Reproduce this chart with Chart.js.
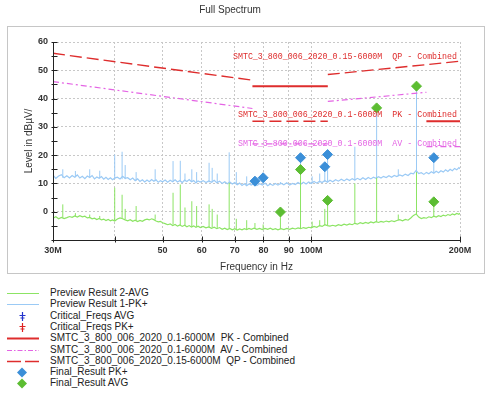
<!DOCTYPE html>
<html><head><meta charset="utf-8">
<script src="https://cdn.jsdelivr.net/npm/chart.js@4.4.0/dist/chart.umd.min.js"></script>
<style>
html,body{margin:0;padding:0;background:#fff;width:500px;height:399px;overflow:hidden;}
#wrap{position:relative;width:500px;height:399px;}
#c{position:absolute;left:0;top:0;}
.lg{position:absolute;left:6px;height:12px;width:440px;font:10px 'Liberation Sans',Arial,sans-serif;color:#222;line-height:12px;white-space:pre;}
.lg svg{position:absolute;left:0;top:0;}
.lg span{position:absolute;left:44px;top:0;}
</style></head><body>
<div id="wrap"><canvas id="c" width="500" height="280"></canvas><div id="legend"></div></div>
<script>
// ---------- data (MHz / dBµV) ----------
const freqs = [30,30.4,30.8,31.2,31.6,32,32.4,32.8,33.2,33.6,34,34.4,34.8,35.2,35.6,36,36.4,36.8,37.2,37.6,38,38.4,38.8,39.2,39.6,40,
 40.5,41,41.5,42,42.5,43,43.5,44,44.5,45,45.5,46,46.5,47,47.5,48,48.5,49,49.5,50,
 50.6,51.2,51.8,52.4,53,53.6,54.2,54.8,55.4,56,56.6,57.2,57.8,58.4,59,59.6,
 60.4,61.2,62,62.8,63.6,64.4,65.2,66,66.8,67.6,68.4,69.2,70,70.8,71.6,72.4,73.2,74,74.8,75.6,
 76.6,77.6,78.6,79.6,80.6,81.6,82.6,83.6,84.6,85.6,86.8,88,89.2,90.4,91.6,92.8,94,95.2,96.4,97.6,98.8,100,101.3,102.6,103.9,105.2,106.5,107.8,109.1,
 110.5,112,113.5,115,116.5,118,119.5,121,122.5,124,125.6,127.2,128.8,130.4,132,133.6,135.2,136.8,138.4,140,141.8,143.6,145.4,147.2,149,
 151,153,155,157,159,161,163,165,167,169,171,173,175,177,179,181,183,185,187,189,191,193,195,197,199,200];
const previewPK = [12.9,11.8,12.6,13.1,12.0,12.7,11.9,12.8,12.2,13.0,11.9,12.5,11.7,12.6,12.1,12.8,11.6,12.3,11.8,12.4,11.5,12.2,11.4,12.0,11.3,11.9,
 12.2,11.6,12.5,11.8,12.0,11.3,11.9,11.0,11.6,10.7,11.3,10.5,11.2,10.6,11.4,10.8,11.3,10.4,11.0,10.6,
 11.2,10.4,11.1,10.6,11.3,10.5,11.0,10.3,11.2,10.7,11.4,10.6,11.0,10.2,10.9,10.5,
 11.0,10.3,10.9,10.4,11.1,10.2,10.8,10.0,10.6,9.9,10.5,9.8,10.3,9.5,10.1,9.3,9.9,9.2,9.8,9.4,
 10.0,9.3,9.9,9.4,10.1,9.2,9.8,9.3,10.0,9.4,10.1,9.5,10.2,9.4,10.0,9.6,10.3,9.7,10.4,9.8,10.5,10.0,10.7,10.1,10.8,10.3,11.0,10.4,11.1,
 10.6,11.3,10.8,11.5,10.9,11.6,11.0,11.7,11.2,11.8,11.3,12.0,11.4,12.1,11.6,12.2,11.8,12.4,11.9,12.5,12.1,12.7,12.2,12.8,12.4,
 13.0,12.6,13.3,12.8,13.6,13.4,14.6,13.5,13.8,13.2,13.9,13.4,14.1,13.6,14.3,13.8,14.5,14.0,14.8,14.2,15.0,14.5,15.3,14.8,15.6,15.2];
const previewAVG = [-2.3,-1.8,-2.5,-2.0,-2.4,-2.1,-1.7,-2.0,-1.5,-1.9,-1.4,-1.8,-1.6,-2.2,-2.0,-2.5,-2.3,-2.8,-2.4,-2.9,-2.6,-3.1,-2.7,-3.2,-2.9,-3.3,
 -2.6,-2.2,-2.5,-2.9,-3.2,-2.8,-3.4,-3.0,-3.5,-3.1,-3.4,-2.9,-2.6,-2.9,-2.5,-2.8,-3.3,-3.6,-3.4,-3.9,
 -4.2,-4.6,-4.3,-4.9,-4.5,-5.1,-4.7,-5.2,-4.8,-5.3,-4.9,-5.4,-5.0,-5.5,-5.1,-5.6,
 -5.2,-5.7,-5.4,-5.9,-5.5,-6.0,-5.6,-6.2,-5.8,-6.3,-5.9,-6.4,-6.0,-6.5,-6.1,-6.4,-6.0,-6.3,-5.9,-6.2,
 -5.8,-6.2,-5.9,-6.3,-5.9,-6.2,-5.8,-6.3,-6.0,-6.4,-6.0,-6.3,-5.9,-6.2,-5.8,-6.1,-5.7,-6.0,-5.6,-5.9,-5.5,-5.7,-5.2,-5.5,-4.9,-5.2,-4.6,-4.9,-5.1,
 -4.8,-5.1,-4.6,-4.9,-4.4,-4.7,-4.3,-4.6,-4.1,-4.4,-3.9,-4.2,-3.8,-4.1,-3.6,-3.9,-3.5,-3.8,-3.4,-3.7,-3.3,-3.6,-3.2,-3.5,-3.1,
 -2.8,-3.2,-2.7,-3.0,-2.2,-1.3,-0.8,-1.9,-2.4,-2.1,-2.3,-1.8,-2.1,-1.6,-1.9,-1.4,-1.7,-1.2,-1.5,-1.0,-1.3,-0.8,-1.1,-0.6,-0.9,-0.5];

// narrow emission spikes
const spikeFreqs   = [31.4,33.3,35.6,37.3,40.0,41.4,42.0,44.2,48.3,52.5,54.3,55.5,57.3,58.6,62.1,63.0,64.5,68.2,70.5,74.0,76.9,79.9,86.6,95.1,100.4,104.0,106.5,107.9,122.5,135.6,150.0,163.3,177.0];
const pkSpikeTop   = [15.0,14.4,15.0,14.5,20.2,21.2,16.5,14.0,15.0,17.9,18.0,13.5,15.0,14.0,17.3,15.5,13.5,21.0,14.0,12.5,11.5,12.0,10.5,19.1,12.5,13.5,16.5,20.2,23.0,36.7,15.0,44.4,19.1];
const pkSpikeBase  = [12.0,12.2,12.0,11.8,11.5,11.5,11.5,11.0,10.8,10.6,10.6,10.7,10.6,10.5,10.4,10.4,10.3,10.0,9.6,9.4,9.5,9.5,9.7,9.8,10.1,10.3,10.5,10.6,11.0,11.8,12.6,13.5,13.7];
const avgSpikeTop  = [2.6,-0.5,-1.0,-1.5,8.5,6.0,1.0,2.0,-1.0,6.7,9.6,1.5,3.7,2.0,2.6,1.0,-1.0,10.2,-2.5,-3.0,-4.0,-4.5,-0.1,14.9,-3.5,-3.0,1.0,4.0,10.0,12.0,-1.0,14.0,3.5];
const avgSpikeBase = [-2.2,-1.7,-2.1,-2.6,-3.2,-2.4,-2.7,-3.1,-2.8,-4.5,-4.8,-5.0,-5.2,-5.3,-5.5,-5.5,-5.8,-6.0,-6.1,-6.1,-6.1,-6.1,-6.1,-5.9,-5.6,-5.1,-4.8,-4.8,-4.3,-3.6,-3.0,-1.0,-1.6];

// final results
const finalPKFreqs  = [76.9,79.9,95.1,106.5,107.9,177.0];
const finalPKLevels = [10.8,12.0,19.1,15.9,20.2,19.1];
const finalAVGFreqs  = [86.6,95.1,107.9,135.6,163.3,177.0];
const finalAVGLevels = [-0.1,14.9,4.0,36.7,44.4,3.5];

// limit lines (null = break)
const qpFreqs  = [30,76,76,76,108,108,108,200];
const qpLevels = [56,46.5,null,32,32,null,48.5,53.2];
const pkFreqs  = [76,108,108,171,200];
const pkLevels = [44.4,44.4,null,32,32];
const avFreqs  = [30,76,76,76,108,108,108,171,171,171,200];
const avLevels = [46,36.5,null,24,24,null,39,42.2,null,23,23];

const limitLabels = ['SMTC_3_800_006_2020_0.15-6000M  QP - Combined','SMTC_3_800_006_2020_0.1-6000M  PK - Combined','SMTC_3_800_006_2020_0.1-6000M  AV - Combined'];
const limitLabelLevels = [54.8,34.1,24.0];

const xTickValues = [30,40,50,60,70,80,90,100,200];
const xTickLabels = ['30M','','50','60','70','80','90','100M','200M'];

const legendLabels = ['Preview Result 2-AVG','Preview Result 1-PK+','Critical_Freqs AVG','Critical_Freqs PK+','SMTC_3_800_006_2020_0.1-6000M  PK - Combined','SMTC_3_800_006_2020_0.1-6000M  AV - Combined','SMTC_3_800_006_2020_0.15-6000M  QP - Combined','Final_Result PK+','Final_Result AVG'];

// ---------- styles ----------
const C_PK = 'rgb(155,202,245)', C_AVG = 'rgb(140,228,100)', C_RED = 'rgb(222,45,45)', C_MAG = 'rgb(228,100,228)';
const C_DPK = '#3b8fd8', C_DAVG = '#5cbd32';

const pts = (xs, ys) => xs.map((x,i)=>({x, y: ys[i]}));
function spikePts(tops, bases){ const out=[]; spikeFreqs.forEach((f,i)=>{ out.push({x:f,y:bases[i]},{x:f,y:tops[i]},{x:f,y:null}); }); return out; }

Chart.defaults.font.family = "'Liberation Sans', Arial, sans-serif";

const decor = {
  id:'decor',
  beforeDraw(chart){
    const ctx = chart.ctx; ctx.save();
    ctx.fillStyle='#fff'; ctx.fillRect(0,0,chart.width,chart.height);
    ctx.strokeStyle='#c6c6c6'; ctx.lineWidth=1; ctx.strokeRect(7.5,26.5,477,247);
    ctx.restore();
  },
  afterDatasetsDraw(chart){
    const ctx = chart.ctx, ys = chart.scales.y, a = chart.chartArea;
    ctx.save();
    ctx.font = "8.3px 'Liberation Mono', monospace";
    ctx.textAlign='right'; ctx.textBaseline='middle';
    const cols=[C_RED,C_RED,C_MAG];
    limitLabels.forEach((t,i)=>{ ctx.fillStyle=cols[i]; ctx.fillText(t, a.right-3, ys.getPixelForValue(limitLabelLevels[i])); });
    ctx.restore();
  },
  afterDraw(chart){
    const ctx = chart.ctx, xs = chart.scales.x, ys = chart.scales.y, a = chart.chartArea;
    ctx.save();
    ctx.strokeStyle='#222'; ctx.lineWidth=1;
    ctx.beginPath();
    const L = Math.round(a.left)+0.5, B = Math.round(a.bottom)+0.5;
    ctx.moveTo(L, a.top); ctx.lineTo(L, B); ctx.lineTo(a.right, B);
    for(let v=-10; v<=60; v+=5){ const y=Math.round(ys.getPixelForValue(v))+0.5; ctx.moveTo(L-2,y); ctx.lineTo(L+4,y); }
    xTickValues.forEach(v=>{ const x=Math.round(xs.getPixelForValue(v))+0.5; ctx.moveTo(x,B-4); ctx.lineTo(x,B+2); });
    ctx.stroke();
    ctx.restore();
  }
};

const ds = [
  {label:'Final_Result PK+', data:pts(finalPKFreqs,finalPKLevels), showLine:false, pointStyle:'rectRot', pointRadius:5, pointBackgroundColor:C_DPK, pointBorderColor:C_DPK, borderColor:C_DPK},
  {label:'Final_Result AVG', data:pts(finalAVGFreqs,finalAVGLevels), showLine:false, pointStyle:'rectRot', pointRadius:5, pointBackgroundColor:C_DAVG, pointBorderColor:C_DAVG, borderColor:C_DAVG},
  {label:'Critical_Freqs AVG', data:[], showLine:false},
  {label:'Critical_Freqs PK+', data:[], showLine:false},
  {label:'QP', data:pts(qpFreqs,qpLevels), borderColor:C_RED, borderWidth:1.4, borderDash:[12,5], pointRadius:0},
  {label:'AV', data:pts(avFreqs,avLevels), borderColor:C_MAG, borderWidth:1.2, borderDash:[6,3,2,3], pointRadius:0},
  {label:'PK', data:pts(pkFreqs,pkLevels), borderColor:C_RED, borderWidth:2, pointRadius:0},
  {label:'avg spikes', data:spikePts(avgSpikeTop,avgSpikeBase), borderColor:C_AVG, borderWidth:1, pointRadius:0},
  {label:'Preview Result 2-AVG', data:pts(freqs,previewAVG), borderColor:C_AVG, borderWidth:1.2, pointRadius:0},
  {label:'pk spikes', data:spikePts(pkSpikeTop,pkSpikeBase), borderColor:C_PK, borderWidth:1, pointRadius:0},
  {label:'Preview Result 1-PK+', data:pts(freqs,previewPK), borderColor:C_PK, borderWidth:1.2, pointRadius:0}
];

new Chart(document.getElementById('c'), {
  type:'line',
  data:{datasets:ds},
  options:{
    responsive:false, animation:false, spanGaps:false,
    layout:{padding:{left:0,right:40,top:0,bottom:0}},
    plugins:{
      legend:{display:false}, tooltip:{enabled:false},
      title:{display:true, text:'Full Spectrum', color:'#333', font:{size:10, weight:'normal'}, padding:{top:4,bottom:26}}
    },
    scales:{
      x:{type:'logarithmic', min:30, max:200,
        afterBuildTicks:(s)=>{ s.ticks = xTickValues.map(v=>({value:v})); },
        ticks:{autoSkip:false, maxRotation:0, padding:5, color:'#333', font:{size:9, weight:'bold'}, callback:(v,i)=>xTickLabels[i]},
        grid:{color:'#c8c8c8', drawTicks:false, lineWidth:1},
        border:{display:false, dash:[2,2]},
        title:{display:true, text:'Frequency in Hz', color:'#333', font:{size:10}, padding:{top:0,bottom:7}},
        afterFit:(s)=>{ s.height = 40; }
      },
      y:{min:-10, max:60,
        ticks:{stepSize:10, padding:5, color:'#333', font:{size:9, weight:'bold'}, callback:(v)=> v===-10 ? '' : String(v)},
        grid:{color:'#c8c8c8', drawTicks:false, lineWidth:1},
        border:{display:false, dash:[2,2]},
        title:{display:true, text:'Level in dBµV/', color:'#333', font:{size:10}, padding:{top:23,bottom:0}},
        afterFit:(s)=>{ s.width = 53; }
      }
    }
  },
  plugins:[decor]
});

// ---------- legend ----------
const legendSymbols = [
  `<line x1="1" y1="6.5" x2="33" y2="6.5" stroke="${C_AVG}" stroke-width="1"/>`,
  `<line x1="1" y1="6.5" x2="33" y2="6.5" stroke="${C_PK}" stroke-width="1"/>`,
  `<path d="M16.5 2V11M13.5 5.5H19.5M14.5 8H18.5" stroke="#2233cc" stroke-width="1.2" fill="none"/>`,
  `<path d="M16.5 2V11M13.5 5.5H19.5M14.5 8H18.5" stroke="#dd2222" stroke-width="1.2" fill="none"/>`,
  `<line x1="1" y1="6.5" x2="33" y2="6.5" stroke="${C_RED}" stroke-width="2"/>`,
  `<line x1="1" y1="6.5" x2="33" y2="6.5" stroke="${C_MAG}" stroke-width="1" stroke-dasharray="5 2 1.5 2"/>`,
  `<line x1="1" y1="6.5" x2="33" y2="6.5" stroke="${C_RED}" stroke-width="1.3" stroke-dasharray="14 4"/>`,
  `<polygon points="16,1.5 21,6.5 16,11.5 11,6.5" fill="${C_DPK}"/>`,
  `<polygon points="16,1.5 21,6.5 16,11.5 11,6.5" fill="${C_DAVG}"/>`
];
const legendEl = document.getElementById('legend');
legendLabels.forEach((t,i)=>{
  const d = document.createElement('div');
  d.className='lg';
  d.style.top = (287 + i*11.3) + 'px';
  d.innerHTML = `<svg width="34" height="13">${legendSymbols[i]}</svg><span></span>`;
  d.querySelector('span').textContent = t;
  legendEl.appendChild(d);
});
</script>
</body></html>
